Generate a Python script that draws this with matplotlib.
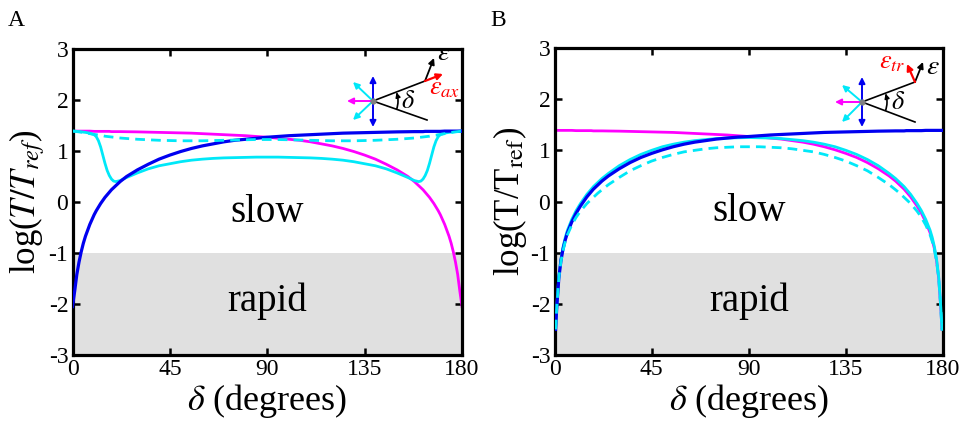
import numpy as np
import matplotlib
matplotlib.use('Agg')
import matplotlib.pyplot as plt
from matplotlib.patches import Arc

plt.rcParams['font.family'] = ['Liberation Serif', 'DejaVu Serif']
plt.rcParams['mathtext.fontset'] = 'stix'

nan = np.nan
# angle grid (degrees)
delta = [0, 0.5, 1, 2, 3, 4, 5, 6, 8, 10, 11, 12, 13, 14, 15, 16, 17, 18, 19, 20, 22, 25,
         30, 35, 40, 45, 50, 55, 60, 65, 70, 75, 80, 85,
         90,
         95, 100, 105, 110, 115, 120, 125, 130, 135, 140, 145, 150, 155, 158,
         160, 161, 162, 163, 164, 165, 166, 167, 168, 169, 170, 172, 174, 175, 176, 177, 178, 179, 179.5, 180]

# Panel A
blue_A = [-2.05, -1.9, -1.75, -1.42, -1.18, -0.98, -0.81, -0.67, -0.44, -0.25, -0.17, -0.10, -0.03, 0.03, 0.09, 0.14, 0.19, 0.24, 0.28, 0.32, 0.40, 0.50,
          0.63, 0.74, 0.84, 0.92, 0.99, 1.05, 1.10, 1.14, 1.18, 1.21, 1.23, 1.25,
          1.27,
          1.285, 1.30, 1.31, 1.32, 1.33, 1.34, 1.35, 1.355, 1.36, 1.365, 1.37, 1.375, 1.378, 1.38,
          1.38, 1.38, 1.38, 1.385, 1.385, 1.385, 1.385, 1.385, 1.385, 1.385, 1.385, 1.39, 1.39, 1.39, 1.39, 1.39, 1.39, 1.39, 1.39, 1.39]
magenta_A = [1.39, 1.39, 1.39, 1.39, 1.39, 1.39, 1.39, 1.39, 1.39, 1.385, 1.385, 1.385, 1.385, 1.385, 1.385, 1.385, 1.385, 1.38, 1.38, 1.38, 1.38, 1.378,
             1.375, 1.37, 1.365, 1.36, 1.355, 1.35, 1.34, 1.33, 1.32, 1.31, 1.30, 1.285,
             1.27,
             1.25, 1.23, 1.21, 1.18, 1.14, 1.10, 1.05, 0.99, 0.92, 0.84, 0.74, 0.63, 0.50, 0.40,
             0.32, 0.28, 0.24, 0.19, 0.14, 0.09, 0.03, -0.03, -0.10, -0.17, -0.25, -0.44, -0.67, -0.81, -0.98, -1.18, -1.42, -1.75, -1.9, -2.05]
cyan_A = [1.39, 1.39, 1.39, 1.385, 1.38, 1.375, 1.37, 1.365, 1.35, 1.32, 1.28, 1.20, 1.08, 0.92, 0.76, 0.62, 0.52, 0.45, 0.41, 0.40, 0.42, 0.48,
          0.57, 0.65, 0.71, 0.75, 0.79, 0.82, 0.84, 0.855, 0.865, 0.87, 0.875, 0.88,
          0.88,
          0.88, 0.875, 0.87, 0.865, 0.855, 0.84, 0.82, 0.79, 0.75, 0.71, 0.65, 0.57, 0.48, 0.42,
          0.40, 0.41, 0.45, 0.52, 0.62, 0.76, 0.92, 1.08, 1.20, 1.28, 1.32, 1.35, 1.365, 1.37, 1.375, 1.38, 1.385, 1.39, 1.39, 1.39]
cyan_dash_A = [1.39, 1.39, 1.385, 1.38, 1.375, 1.37, 1.36, 1.355, 1.34, 1.325, 1.32, 1.31, 1.305, 1.30, 1.29, 1.285, 1.28, 1.275, 1.27, 1.265, 1.255, 1.245,
               1.23, 1.22, 1.21, 1.205, 1.20, 1.20, 1.20, 1.205, 1.21, 1.215, 1.22, 1.225,
               1.225,
               1.225, 1.22, 1.215, 1.21, 1.205, 1.20, 1.20, 1.20, 1.205, 1.21, 1.22, 1.23, 1.245, 1.255,
               1.265, 1.27, 1.275, 1.28, 1.285, 1.29, 1.30, 1.305, 1.31, 1.32, 1.325, 1.34, 1.355, 1.36, 1.37, 1.375, 1.38, 1.385, 1.39, 1.39]

# Panel B
blue_B = [nan, -2.5, -2.1, -1.5, -1.15, -0.92, -0.75, -0.61, -0.40, -0.23, -0.16, -0.09, -0.03, 0.03, 0.09, 0.14, 0.19, 0.24, 0.28, 0.32, 0.40, 0.50,
          0.64, 0.76, 0.86, 0.94, 1.01, 1.07, 1.12, 1.16, 1.19, 1.22, 1.24, 1.26,
          1.27,
          1.285, 1.30, 1.31, 1.32, 1.33, 1.34, 1.35, 1.355, 1.36, 1.365, 1.37, 1.375, 1.378, 1.38,
          1.38, 1.38, 1.38, 1.385, 1.385, 1.385, 1.385, 1.385, 1.385, 1.385, 1.385, 1.39, 1.39, 1.39, 1.39, 1.39, 1.39, 1.39, 1.39, 1.39]
magenta_B = [1.39, 1.39, 1.39, 1.39, 1.39, 1.39, 1.39, 1.39, 1.39, 1.385, 1.385, 1.385, 1.385, 1.385, 1.385, 1.385, 1.385, 1.38, 1.38, 1.38, 1.38, 1.378,
             1.375, 1.37, 1.365, 1.36, 1.355, 1.35, 1.34, 1.33, 1.32, 1.31, 1.30, 1.285,
             1.27,
             1.26, 1.24, 1.22, 1.19, 1.16, 1.12, 1.07, 1.01, 0.94, 0.86, 0.76, 0.64, 0.50, 0.40,
             0.32, 0.28, 0.24, 0.19, 0.14, 0.09, 0.03, -0.03, -0.09, -0.16, -0.23, -0.40, -0.61, -0.75, -0.92, -1.15, -1.5, -2.1, -2.5, nan]
cyan_B = [nan, -2.5, -2.08, -1.47, -1.12, -0.88, -0.70, -0.56, -0.35, -0.18, -0.11, -0.04, 0.02, 0.08, 0.14, 0.19, 0.24, 0.29, 0.33, 0.37, 0.45, 0.55,
          0.70, 0.82, 0.92, 1.00, 1.07, 1.12, 1.16, 1.19, 1.21, 1.23, 1.24, 1.245,
          1.25,
          1.245, 1.24, 1.23, 1.21, 1.19, 1.16, 1.12, 1.07, 1.00, 0.92, 0.82, 0.70, 0.55, 0.45,
          0.37, 0.33, 0.29, 0.24, 0.19, 0.14, 0.08, 0.02, -0.04, -0.11, -0.18, -0.35, -0.56, -0.70, -0.88, -1.12, -1.47, -2.08, -2.5, nan]
cyan_dash_B = [nan, -2.5, -2.1, -1.5, -1.17, -0.95, -0.78, -0.65, -0.46, -0.31, -0.25, -0.19, -0.14, -0.09, -0.04, 0.0, 0.04, 0.08, 0.12, 0.16, 0.23, 0.33,
               0.47, 0.60, 0.70, 0.79, 0.86, 0.92, 0.97, 1.00, 1.03, 1.05, 1.06, 1.07,
               1.07,
               1.07, 1.06, 1.05, 1.03, 1.00, 0.97, 0.92, 0.86, 0.79, 0.70, 0.60, 0.47, 0.33, 0.23,
               0.16, 0.12, 0.08, 0.04, 0.0, -0.04, -0.09, -0.14, -0.19, -0.25, -0.31, -0.46, -0.65, -0.78, -0.95, -1.17, -1.5, -2.1, -2.5, nan]

xticks = [0, 45, 90, 135, 180]
yticks = [-3, -2, -1, 0, 1, 2, 3]
ytick_labels = ['-3', '-2', '-1', '0', '1', '2', '3']

BLUE = '#0000f0'
MAG = '#ff00ff'
CYAN = '#00e8f8'
GRAY = '#e0e0e0'

W, H = 963, 429
fig = plt.figure(figsize=(W / 100, H / 100), dpi=100)


def px_axes(x0, y0, x1, y1):
    return fig.add_axes([x0 / W, 1 - y1 / H, (x1 - x0) / W, (y1 - y0) / H])


axA = px_axes(72.5, 49, 462, 355)
axB = px_axes(554.5, 48, 943, 355)


def style(ax, ylabel):
    ax.axhspan(-3, -1, color=GRAY, zorder=0, lw=0)
    ax.set_xlim(0, 180)
    ax.set_ylim(-3, 3)
    ax.set_xticks(xticks)
    ax.set_xticklabels([str(t) for t in xticks])
    ax.set_yticks(yticks)
    ax.set_yticklabels(ytick_labels)
    ax.tick_params(direction='in', length=5, width=1.8, top=True, right=True,
                   labelsize=17, pad=3)
    for s in ax.spines.values():
        s.set_linewidth(2.3)
    ax.set_xlabel(r'$\delta$ (degrees)', fontsize=26, labelpad=1)
    ax.set_ylabel(ylabel, fontsize=25, labelpad=1)
    ax.text(90, -0.2, 'slow', fontsize=28, ha='center', va='center')
    ax.text(90, -1.95, 'rapid', fontsize=28, ha='center', va='center')


def curves(ax, b, m, c, cd):
    ax.plot(delta, m, color=MAG, lw=2.0, zorder=2)
    ax.plot(delta, c, color=CYAN, lw=2.0, zorder=3)
    ax.plot(delta, b, color=BLUE, lw=2.3, zorder=4)
    ax.plot(delta, cd, color=CYAN, lw=2.0, ls=(0, (3.5, 2.2)), zorder=5)


curves(axA, blue_A, magenta_A, cyan_A, cyan_dash_A)
curves(axB, blue_B, magenta_B, cyan_B, cyan_dash_B)
style(axA, r'log($T/T_{ref}$)')
style(axB, r'log(T/T$_{\mathrm{ref}}$)')

fig.text(8 / W, 1 - 20 / H, 'A', fontsize=17, ha='left', va='center')
fig.text(490 / W, 1 - 20 / H, 'B', fontsize=17, ha='left', va='center')


def arrow(ax, start, tip, color, style='-|>', lw=1.3, ms=9):
    ax.annotate('', xy=tip, xytext=start,
                arrowprops=dict(arrowstyle=style, color=color, lw=lw,
                                mutation_scale=ms, shrinkA=0, shrinkB=0))


def inset(box, c, up_end, lo_end, eps_tip, red_tip, red_label, red_pos, eps_pos, dpos,
          cyan_up, cyan_lo, mag_tip, blue_top, blue_bot):
    ax = px_axes(*box)
    ax.set_xlim(box[0], box[2])
    ax.set_ylim(box[3], box[1])
    ax.axis('off')
    ax.patch.set_alpha(0)
    ax.plot([c[0], up_end[0]], [c[1], up_end[1]], color='black', lw=1.2)
    ax.plot([c[0], lo_end[0]], [c[1], lo_end[1]], color='black', lw=1.2)
    a_up = np.degrees(np.arctan2(up_end[1] - c[1], up_end[0] - c[0]))
    a_lo = np.degrees(np.arctan2(lo_end[1] - c[1], lo_end[0] - c[0]))
    r = 25
    ax.add_patch(Arc(c, 2 * r, 2 * r, theta1=a_up + 3, theta2=a_lo, color='black', lw=1.2))
    t0 = np.radians(a_up + 8)
    t1 = np.radians(a_up + 1)
    arrow(ax, (c[0] + r * np.cos(t0), c[1] + r * np.sin(t0)),
          (c[0] + r * np.cos(t1), c[1] + r * np.sin(t1)), 'black', ms=7, lw=1.1)
    ax.text(dpos[0], dpos[1], r'$\delta$', fontsize=19, ha='center', va='center')
    arrow(ax, up_end, eps_tip, 'black', ms=9)
    ax.text(eps_pos[0], eps_pos[1], r'$\varepsilon$', fontsize=20, ha='center', va='center')
    arrow(ax, up_end, red_tip, '#ff0000', ms=9, lw=1.6)
    ax.text(red_pos[0], red_pos[1], red_label, fontsize=19, ha='center', va='center',
            color='#ff0000')
    arrow(ax, c, cyan_up, CYAN, lw=1.4)
    arrow(ax, c, cyan_lo, CYAN, lw=1.4)
    arrow(ax, c, mag_tip, MAG, lw=1.4)
    arrow(ax, blue_bot, blue_top, BLUE, style='<|-|>', lw=1.4)
    ax.plot([c[0]], [c[1]], 'o', color='#808080', ms=3.5, zorder=10)


inset((335, 40, 470, 135), (373, 101), (425, 81), (427, 120), (434, 58), (443, 74),
      r'$\varepsilon_{ax}$', (445, 89), (444, 53), (408, 102),
      (353, 82), (353, 120), (347, 101), (373, 76), (373, 127))
inset((825, 40, 955, 135), (862, 102), (915, 82), (915, 122), (923, 62), (907, 64),
      r'$\varepsilon_{tr}$', (892, 63), (933, 67), (898, 103),
      (842, 85), (842, 122), (835, 102), (862, 77), (862, 127))

fig.savefig('out.png', dpi=100)
